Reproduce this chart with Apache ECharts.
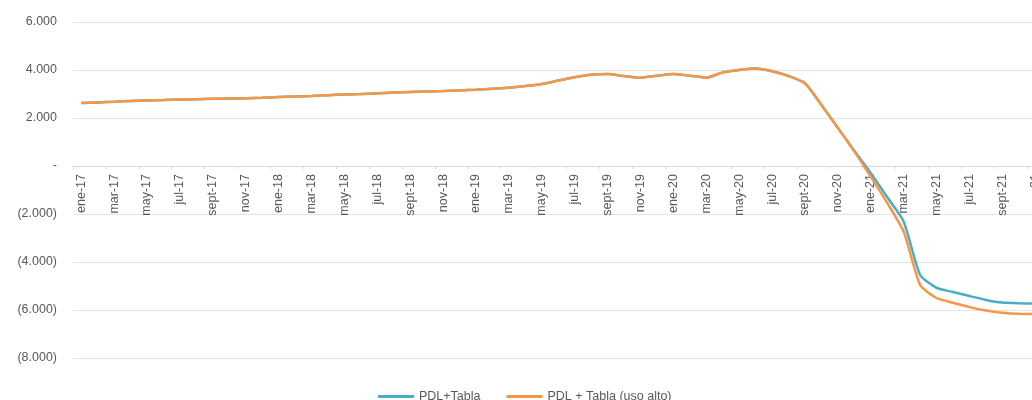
<!DOCTYPE html>
<html>
<head>
<meta charset="utf-8">
<script src="https://cdn.jsdelivr.net/npm/echarts@6/dist/echarts.min.js"></script>
<style>
  html, body { margin: 0; padding: 0; background: #fff; }
  #main { width: 1032px; height: 400px; }
</style>
</head>
<body>
<div id="main"></div>
<script>
// meses: ene-17 .. dic-21
var mesesNombres = ['ene', 'feb', 'mar', 'abr', 'may', 'jun', 'jul', 'ago', 'sept', 'oct', 'nov', 'dic'];
var anios = ['17', '18', '19', '20', '21'];
var meses = [];
anios.forEach(function (a) {
  mesesNombres.forEach(function (m) { meses.push(m + '-' + a); });
});

var pdlTabla = [
  2620, 2650, 2680, 2710, 2730, 2750, 2770, 2780, 2800, 2810, 2820, 2840,
  2870, 2900, 2920, 2950, 2980, 3000, 3030, 3060, 3080, 3100, 3120, 3150,
  3180, 3220, 3260, 3330, 3420, 3560, 3700, 3800, 3830, 3750, 3680, 3760,
  3830, 3760, 3680, 3900, 4000, 4060, 3950, 3750, 3450, 2540, 1580, 640,
  -300, -1300, -2320, -4540, -5080, -5250, -5420, -5580, -5690, -5720, -5730, -5740
];

var pdlTablaAlto = [
  2620, 2650, 2680, 2710, 2730, 2750, 2770, 2780, 2800, 2810, 2820, 2840,
  2870, 2900, 2920, 2950, 2980, 3000, 3030, 3060, 3080, 3100, 3120, 3150,
  3180, 3220, 3260, 3330, 3420, 3560, 3700, 3800, 3830, 3750, 3680, 3760,
  3830, 3760, 3680, 3900, 4000, 4060, 3950, 3750, 3450, 2540, 1580, 600,
  -450, -1540, -2740, -4960, -5500, -5700, -5880, -6020, -6110, -6160, -6170, -6180
];

function fmtMiles(v) {
  if (v === 0) return '-';
  var s = Math.abs(v).toString().replace(/\B(?=(\d{3})+(?!\d))/g, '.');
  return v < 0 ? '(' + s + ')' : s;
}

var chart = echarts.init(document.getElementById('main'));

var option = {
  animation: false,
  textStyle: { fontFamily: 'Liberation Sans' },
  legend: {
    data: ['PDL+Tabla', 'PDL + Tabla (uso alto)'],
    left: 373,
    top: 385,
    icon: 'rect',
    itemWidth: 36,
    itemHeight: 3,
    itemGap: 26,
    textStyle: { fontSize: 12.5, color: '#595959' }
  },
  grid: {
    left: 73,
    top: 22,
    width: 987,
    height: 336,
    containLabel: false,
    outerBoundsMode: 'none'
  },
  xAxis: {
    type: 'category',
    data: meses,
    boundaryGap: true,
    position: 'bottom',
    // el eje va en la línea del cero (192 px por encima del borde inferior)
    offset: -192,
    axisLine: { onZero: false, lineStyle: { color: '#d9d9d9' } },
    axisTick: { show: true, interval: 1, length: 3, lineStyle: { color: '#d9d9d9' } },
    axisLabel: {
      interval: 1,
      rotate: 90,
      fontSize: 12.5,
      color: '#595959',
      margin: 8
    },
    splitLine: { show: false }
  },
  yAxis: {
    type: 'value',
    min: -8000,
    max: 6000,
    interval: 2000,
    axisLine: { show: false },
    axisTick: { show: false },
    axisLabel: {
      fontSize: 12.5,
      color: '#595959',
      margin: 16,
      formatter: fmtMiles
    },
    splitLine: { lineStyle: { color: '#e4e4e4', width: 1 } }
  },
  series: [
    {
      name: 'PDL+Tabla',
      type: 'line',
      data: pdlTabla,
      symbol: 'none',
      smooth: 0.2,
      lineStyle: { color: '#4bacc6', width: 2.5 },
      itemStyle: { color: '#4bacc6' }
    },
    {
      name: 'PDL + Tabla (uso alto)',
      type: 'line',
      data: pdlTablaAlto,
      symbol: 'none',
      smooth: 0.2,
      lineStyle: { color: '#f79646', width: 2.5 },
      itemStyle: { color: '#f79646' }
    }
  ]
};

chart.setOption(option);
</script>
</body>
</html>
